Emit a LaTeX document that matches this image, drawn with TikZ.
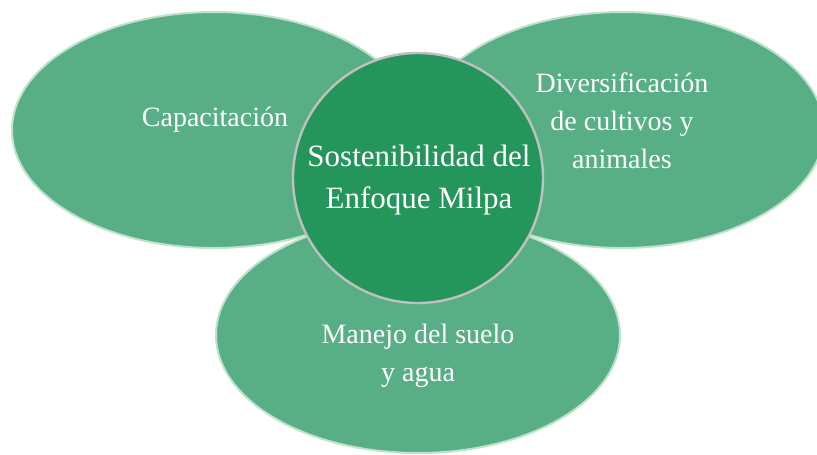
\documentclass[tikz,border=0pt]{standalone}
\usepackage{fontspec}
\setmainfont{Liberation Serif}
\usetikzlibrary{shapes.geometric,positioning}
\definecolor{petalgreen}{RGB}{89,175,133}
\definecolor{petalrim}{RGB}{190,226,204}
\definecolor{hubgreen}{RGB}{37,150,91}
\definecolor{hubrim}{RGB}{192,192,192}
\begin{document}
\begin{tikzpicture}[x=0.75pt, y=-0.75pt,
  petal/.style={ellipse, fill=petalgreen, draw=petalrim, line width=1.5pt,
    minimum width=303pt, minimum height=177pt, inner sep=0pt},
  hub/.style={circle, fill=hubgreen, draw=hubrim, line width=1.8pt,
    minimum size=187.5pt, inner sep=0pt},
  lbl/.style={text=white, align=center, font=\fontsize{21}{28.5}\selectfont},
  hublbl/.style={text=white, align=center, font=\fontsize{23.25}{31.5}\selectfont}
]
\useasboundingbox (0,0) rectangle (817,454);
\clip (0,0) rectangle (817,454);

% three petals, then the hub on top
\node[petal] (cap) at (214,130) {};
\node[petal] (div) at (622,130) {};
\node[petal] (man) at (418,335) {};
\node[hub] (hub) at (418,178) {};

% texts
\node[lbl] (capT) at (215,119.5) {Capacitación};
\node[lbl] (divT) at (622,121) {Diversificación\\de cultivos y\\animales};
\node[lbl] (manT) at (418,356) {Manejo del suelo\\y agua};
\node[hublbl] (hubT) at (419,180) {Sostenibilidad del\\Enfoque Milpa};

\end{tikzpicture}
\end{document}
